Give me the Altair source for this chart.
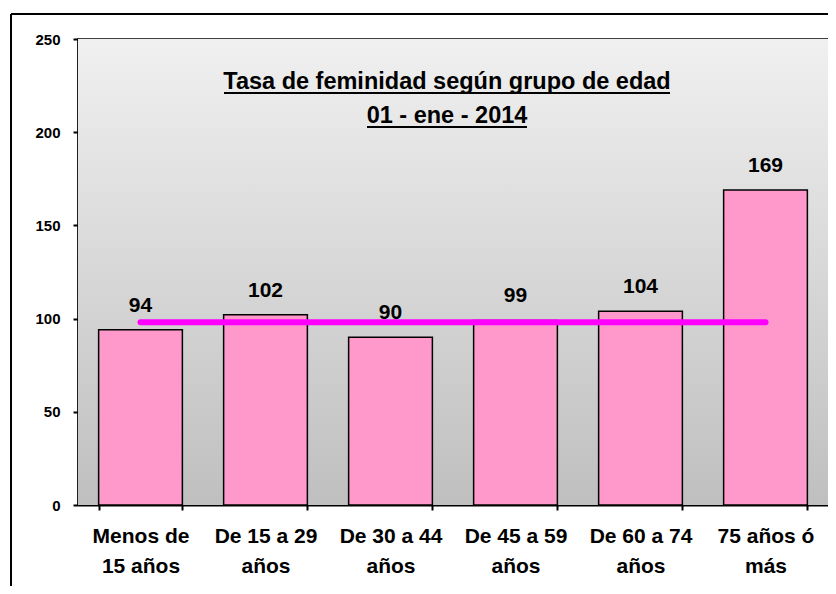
import altair as alt
import pandas as pd

categories = ["Menos de\n15 años", "De 15 a 29\naños", "De 30 a 44\naños",
              "De 45 a 59\naños", "De 60 a 74\naños", "75 años ó\nmás"]
values = [94, 102, 90, 99, 104, 169]
reference_value = 98
title_lines = ["Tasa de feminidad según grupo de edad", "01 - ene - 2014"]
y_ticks = [0, 50, 100, 150, 200, 250]

W, H = 750, 466
FONT = "Liberation Sans"

df = pd.DataFrame({"grupo": categories, "tasa": values})
ref = pd.DataFrame({"grupo": [categories[0], categories[-1]],
                    "tasa": [reference_value, reference_value]})

xenc = alt.X("grupo:N", sort=categories,
             scale=alt.Scale(paddingInner=0.33, paddingOuter=0.165),
             axis=alt.Axis(title=None, labelAngle=0, labelExpr="split(datum.label, '\\n')",
                           labelFont=FONT, labelFontSize=21, labelFontWeight="bold",
                           labelColor="black", labelLineHeight=30, labelPadding=15,
                           labelBaseline="top",
                           tickBand="extent", tickSize=5, tickColor="black", tickWidth=2,
                           domainColor="black", domainWidth=2))
yenc = alt.Y("tasa:Q", scale=alt.Scale(domain=[0, 250], nice=False),
             axis=alt.Axis(title=None, values=y_ticks, grid=False,
                           labelFont=FONT, labelFontSize=15, labelFontWeight="bold",
                           labelColor="black", labelPadding=13,
                           tickSize=5, tickColor="black", tickWidth=2,
                           domainColor="black", domainWidth=2))

bg = alt.Chart(pd.DataFrame({"a": [0]})).mark_rect(
    fill=alt.LinearGradient(gradient="linear",
                            stops=[alt.GradientStop(color="#f0f0f0", offset=0),
                                   alt.GradientStop(color="#bfbfbf", offset=1)],
                            x1=0, x2=0, y1=0, y2=1)
).encode(x=alt.value(0), x2=alt.value(W), y=alt.value(0), y2=alt.value(H))

bars = alt.Chart(df).mark_bar(fill="#ff99cc", stroke="black", strokeWidth=1.5).encode(
    x=xenc, y=yenc)

labels = alt.Chart(df).mark_text(font=FONT, fontSize=21, fontWeight="bold",
                                 color="black", baseline="bottom", dy=-14).encode(
    x=alt.X("grupo:N", sort=categories), y="tasa:Q", text="tasa:Q")

line = alt.Chart(ref).mark_line(color="#ff00ff", strokeWidth=6, strokeCap="round").encode(
    x=alt.X("grupo:N", sort=categories), y="tasa:Q")

title1 = alt.Chart(pd.DataFrame({"t": [title_lines[0]]})).mark_text(
    font=FONT, fontSize=23.5, fontWeight="bold", color="black", baseline="alphabetic"
).encode(text="t:N", x=alt.value(369), y=alt.value(50))
title2 = alt.Chart(pd.DataFrame({"t": [title_lines[1]]})).mark_text(
    font=FONT, fontSize=23.5, fontWeight="bold", color="black", baseline="alphabetic"
).encode(text="t:N", x=alt.value(369), y=alt.value(84))

u1 = alt.Chart(pd.DataFrame({"a": [0]})).mark_rule(color="black", strokeWidth=2).encode(
    x=alt.value(146), x2=alt.value(592), y=alt.value(54))
u2 = alt.Chart(pd.DataFrame({"a": [0]})).mark_rule(color="black", strokeWidth=2).encode(
    x=alt.value(289), x2=alt.value(449), y=alt.value(88))

frame_top = alt.Chart(pd.DataFrame({"a": [0]})).mark_rule(color="black", strokeWidth=2).encode(
    x=alt.value(-67), x2=alt.value(W + 10), y=alt.value(-25))
frame_left = alt.Chart(pd.DataFrame({"a": [0]})).mark_rule(color="black", strokeWidth=2).encode(
    x=alt.value(-67), y=alt.value(-25), y2=alt.value(H + 90))

chart = alt.layer(bg, bars, line, labels, title1, title2, u1, u2, frame_top, frame_left).properties(
    width=W, height=H,
    autosize=alt.AutoSizeParams(type="none"),
    padding={"left": 70, "top": 31, "right": 0, "bottom": 81},
    background="white",
).configure_view(stroke="black", strokeWidth=1.5)

chart.save("out.html", embed_options={"renderer": "svg", "actions": False})
